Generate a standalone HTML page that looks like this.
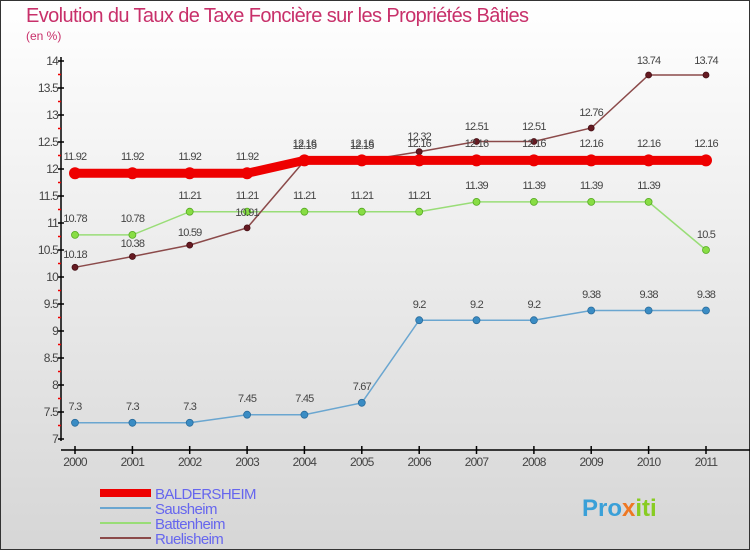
<!DOCTYPE html>
<html><head><meta charset="utf-8"><style>
body{margin:0;width:750px;height:550px;overflow:hidden}
svg{display:block;font-family:"Liberation Sans",sans-serif}
</style></head><body>
<svg width="750" height="550" xmlns="http://www.w3.org/2000/svg">
<defs><linearGradient id="bg" x1="0" y1="0" x2="0" y2="1"><stop offset="0" stop-color="#ffffff"/><stop offset="1" stop-color="#d6d6d6"/></linearGradient></defs>
<rect x="0.5" y="0.5" width="749" height="549" fill="url(#bg)" stroke="#333"/>
<text x="26" y="22" font-size="20" fill="#c8306a" letter-spacing="-0.6">Evolution du Taux de Taxe Foncière sur les Propriétés Bâties</text>
<text x="26" y="40" font-size="12" fill="#c8306a">(en %)</text>
<g stroke="#000" stroke-width="1.5">
<line x1="61" y1="57" x2="61" y2="441"/><line x1="61" y1="450" x2="750" y2="450"/>
</g>
<g stroke="#e00" stroke-width="1.5">
<line x1="58" y1="74.5" x2="61" y2="74.5"/><line x1="58" y1="101.5" x2="61" y2="101.5"/><line x1="58" y1="128.5" x2="61" y2="128.5"/><line x1="58" y1="155.5" x2="61" y2="155.5"/><line x1="58" y1="182.5" x2="61" y2="182.5"/><line x1="58" y1="209.5" x2="61" y2="209.5"/><line x1="58" y1="236.5" x2="61" y2="236.5"/><line x1="58" y1="263.5" x2="61" y2="263.5"/><line x1="58" y1="290.5" x2="61" y2="290.5"/><line x1="58" y1="317.5" x2="61" y2="317.5"/><line x1="58" y1="344.5" x2="61" y2="344.5"/><line x1="58" y1="371.5" x2="61" y2="371.5"/><line x1="58" y1="398.5" x2="61" y2="398.5"/><line x1="58" y1="425.5" x2="61" y2="425.5"/>
</g>
<g stroke="#000" stroke-width="1.5">
<line x1="58" y1="61" x2="64" y2="61"/><line x1="58" y1="88" x2="64" y2="88"/><line x1="58" y1="115" x2="64" y2="115"/><line x1="58" y1="142" x2="64" y2="142"/><line x1="58" y1="169" x2="64" y2="169"/><line x1="58" y1="196" x2="64" y2="196"/><line x1="58" y1="223" x2="64" y2="223"/><line x1="58" y1="250" x2="64" y2="250"/><line x1="58" y1="277" x2="64" y2="277"/><line x1="58" y1="304" x2="64" y2="304"/><line x1="58" y1="331" x2="64" y2="331"/><line x1="58" y1="358" x2="64" y2="358"/><line x1="58" y1="385" x2="64" y2="385"/><line x1="58" y1="412" x2="64" y2="412"/><line x1="58" y1="439" x2="64" y2="439"/>
</g>
<g fill="#444" font-size="12" text-anchor="end" letter-spacing="-0.8">
<text x="58" y="65">14</text><text x="58" y="92">13.5</text><text x="58" y="119">13</text><text x="58" y="146">12.5</text><text x="58" y="173">12</text><text x="58" y="200">11.5</text><text x="58" y="227">11</text><text x="58" y="254">10.5</text><text x="58" y="281">10</text><text x="58" y="308">9.5</text><text x="58" y="335">9</text><text x="58" y="362">8.5</text><text x="58" y="389">8</text><text x="58" y="416">7.5</text><text x="58" y="443">7</text>
</g>
<g stroke="#000" stroke-width="1.5">
<line x1="75" y1="446" x2="75" y2="454"/><line x1="132.4" y1="446" x2="132.4" y2="454"/><line x1="189.7" y1="446" x2="189.7" y2="454"/><line x1="247.1" y1="446" x2="247.1" y2="454"/><line x1="304.4" y1="446" x2="304.4" y2="454"/><line x1="361.8" y1="446" x2="361.8" y2="454"/><line x1="419.2" y1="446" x2="419.2" y2="454"/><line x1="476.5" y1="446" x2="476.5" y2="454"/><line x1="533.9" y1="446" x2="533.9" y2="454"/><line x1="591.2" y1="446" x2="591.2" y2="454"/><line x1="648.6" y1="446" x2="648.6" y2="454"/><line x1="706" y1="446" x2="706" y2="454"/>
</g>
<g fill="#444" font-size="12" text-anchor="middle" letter-spacing="-0.8">
<text x="75" y="466">2000</text><text x="132.4" y="466">2001</text><text x="189.7" y="466">2002</text><text x="247.1" y="466">2003</text><text x="304.4" y="466">2004</text><text x="361.8" y="466">2005</text><text x="419.2" y="466">2006</text><text x="476.5" y="466">2007</text><text x="533.9" y="466">2008</text><text x="591.2" y="466">2009</text><text x="648.6" y="466">2010</text><text x="706" y="466">2011</text>
</g>
<polyline fill="none" stroke="#6aa6d0" stroke-width="1.5" points="75,422.8 132.4,422.8 189.7,422.8 247.1,414.7 304.4,414.7 361.8,402.8 419.2,320.2 476.5,320.2 533.9,320.2 591.2,310.5 648.6,310.5 706,310.5"/>
<g fill="#3a8cc4" stroke="#2a6c9c" stroke-width="0.8">
<circle cx="75" cy="422.8" r="3.5"/><circle cx="132.4" cy="422.8" r="3.5"/><circle cx="189.7" cy="422.8" r="3.5"/><circle cx="247.1" cy="414.7" r="3.5"/><circle cx="304.4" cy="414.7" r="3.5"/><circle cx="361.8" cy="402.8" r="3.5"/><circle cx="419.2" cy="320.2" r="3.5"/><circle cx="476.5" cy="320.2" r="3.5"/><circle cx="533.9" cy="320.2" r="3.5"/><circle cx="591.2" cy="310.5" r="3.5"/><circle cx="648.6" cy="310.5" r="3.5"/><circle cx="706" cy="310.5" r="3.5"/>
</g>
<polyline fill="none" stroke="#99dd77" stroke-width="1.5" points="75,234.9 132.4,234.9 189.7,211.7 247.1,211.7 304.4,211.7 361.8,211.7 419.2,211.7 476.5,201.9 533.9,201.9 591.2,201.9 648.6,201.9 706,250"/>
<g fill="#88dd44" stroke="#55aa22" stroke-width="0.8">
<circle cx="75" cy="234.9" r="3.5"/><circle cx="132.4" cy="234.9" r="3.5"/><circle cx="189.7" cy="211.7" r="3.5"/><circle cx="247.1" cy="211.7" r="3.5"/><circle cx="304.4" cy="211.7" r="3.5"/><circle cx="361.8" cy="211.7" r="3.5"/><circle cx="419.2" cy="211.7" r="3.5"/><circle cx="476.5" cy="201.9" r="3.5"/><circle cx="533.9" cy="201.9" r="3.5"/><circle cx="591.2" cy="201.9" r="3.5"/><circle cx="648.6" cy="201.9" r="3.5"/><circle cx="706" cy="250" r="3.5"/>
</g>
<polyline fill="none" stroke="#8b4a4a" stroke-width="1.5" points="75,267.3 132.4,256.5 189.7,245.1 247.1,227.9 304.4,160.9 361.8,160.9 419.2,151.7 476.5,141.5 533.9,141.5 591.2,128 648.6,75 706,75"/>
<g fill="#661a22" stroke="#440f14" stroke-width="0.8">
<circle cx="75" cy="267.3" r="3"/><circle cx="132.4" cy="256.5" r="3"/><circle cx="189.7" cy="245.1" r="3"/><circle cx="247.1" cy="227.9" r="3"/><circle cx="304.4" cy="160.9" r="3"/><circle cx="361.8" cy="160.9" r="3"/><circle cx="419.2" cy="151.7" r="3"/><circle cx="476.5" cy="141.5" r="3"/><circle cx="533.9" cy="141.5" r="3"/><circle cx="591.2" cy="128" r="3"/><circle cx="648.6" cy="75" r="3"/><circle cx="706" cy="75" r="3"/>
</g>
<polyline fill="none" stroke="#ee0000" stroke-width="9" points="75,173.3 132.4,173.3 189.7,173.3 247.1,173.3 304.4,160.4 361.8,160.4 419.2,160.4 476.5,160.4 533.9,160.4 591.2,160.4 648.6,160.4 706,160.4"/>
<g fill="#ee0000">
<circle cx="75" cy="173.3" r="6"/><circle cx="132.4" cy="173.3" r="6"/><circle cx="189.7" cy="173.3" r="6"/><circle cx="247.1" cy="173.3" r="6"/><circle cx="304.4" cy="160.4" r="6"/><circle cx="361.8" cy="160.4" r="6"/><circle cx="419.2" cy="160.4" r="6"/><circle cx="476.5" cy="160.4" r="6"/><circle cx="533.9" cy="160.4" r="6"/><circle cx="591.2" cy="160.4" r="6"/><circle cx="648.6" cy="160.4" r="6"/><circle cx="706" cy="160.4" r="6"/>
</g>
<g fill="#444" font-size="11" text-anchor="middle" letter-spacing="-0.8">
<text x="75" y="160">11.92</text><text x="132.4" y="160">11.92</text><text x="189.7" y="160">11.92</text><text x="247.1" y="160">11.92</text><text x="304.4" y="147">12.16</text><text x="361.8" y="147">12.16</text><text x="419.2" y="147">12.16</text><text x="476.5" y="147">12.16</text><text x="533.9" y="147">12.16</text><text x="591.2" y="147">12.16</text><text x="648.6" y="147">12.16</text><text x="706" y="147">12.16</text>
<text x="75" y="410">7.3</text><text x="132.4" y="410">7.3</text><text x="189.7" y="410">7.3</text><text x="247.1" y="402">7.45</text><text x="304.4" y="402">7.45</text><text x="361.8" y="390">7.67</text><text x="419.2" y="308">9.2</text><text x="476.5" y="308">9.2</text><text x="533.9" y="308">9.2</text><text x="591.2" y="298">9.38</text><text x="648.6" y="298">9.38</text><text x="706" y="298">9.38</text>
<text x="75" y="222">10.78</text><text x="132.4" y="222">10.78</text><text x="189.7" y="199">11.21</text><text x="247.1" y="199">11.21</text><text x="304.4" y="199">11.21</text><text x="361.8" y="199">11.21</text><text x="419.2" y="199">11.21</text><text x="476.5" y="189">11.39</text><text x="533.9" y="189">11.39</text><text x="591.2" y="189">11.39</text><text x="648.6" y="189">11.39</text><text x="706" y="238">10.5</text>
<text x="75" y="258">10.18</text><text x="132.4" y="247">10.38</text><text x="189.7" y="236">10.59</text><text x="247.1" y="216">10.91</text><text x="304.4" y="149">12.15</text><text x="361.8" y="149">12.15</text><text x="419.2" y="140">12.32</text><text x="476.5" y="130">12.51</text><text x="533.9" y="130">12.51</text><text x="591.2" y="116">12.76</text><text x="648.6" y="64">13.74</text><text x="706" y="64">13.74</text>
</g>
<rect x="100" y="489" width="51" height="8" fill="#ee0000"/>
<line x1="100" y1="508" x2="151" y2="508" stroke="#6aa6d0" stroke-width="2"/>
<line x1="100" y1="523" x2="151" y2="523" stroke="#99dd77" stroke-width="2"/>
<line x1="100" y1="538" x2="151" y2="538" stroke="#8b4a4a" stroke-width="2"/>
<g fill="#6666ee" font-size="15" letter-spacing="-0.6">
<text x="155" y="499">BALDERSHEIM</text><text x="155" y="514">Sausheim</text><text x="155" y="529">Battenheim</text><text x="155" y="544">Ruelisheim</text>
</g>
<text x="582" y="516" font-size="24" font-weight="bold" fill="#3aa0d8">Pro<tspan fill="#ee7722">x</tspan><tspan fill="#88cc22">iti</tspan></text>
</svg>
</body></html>
